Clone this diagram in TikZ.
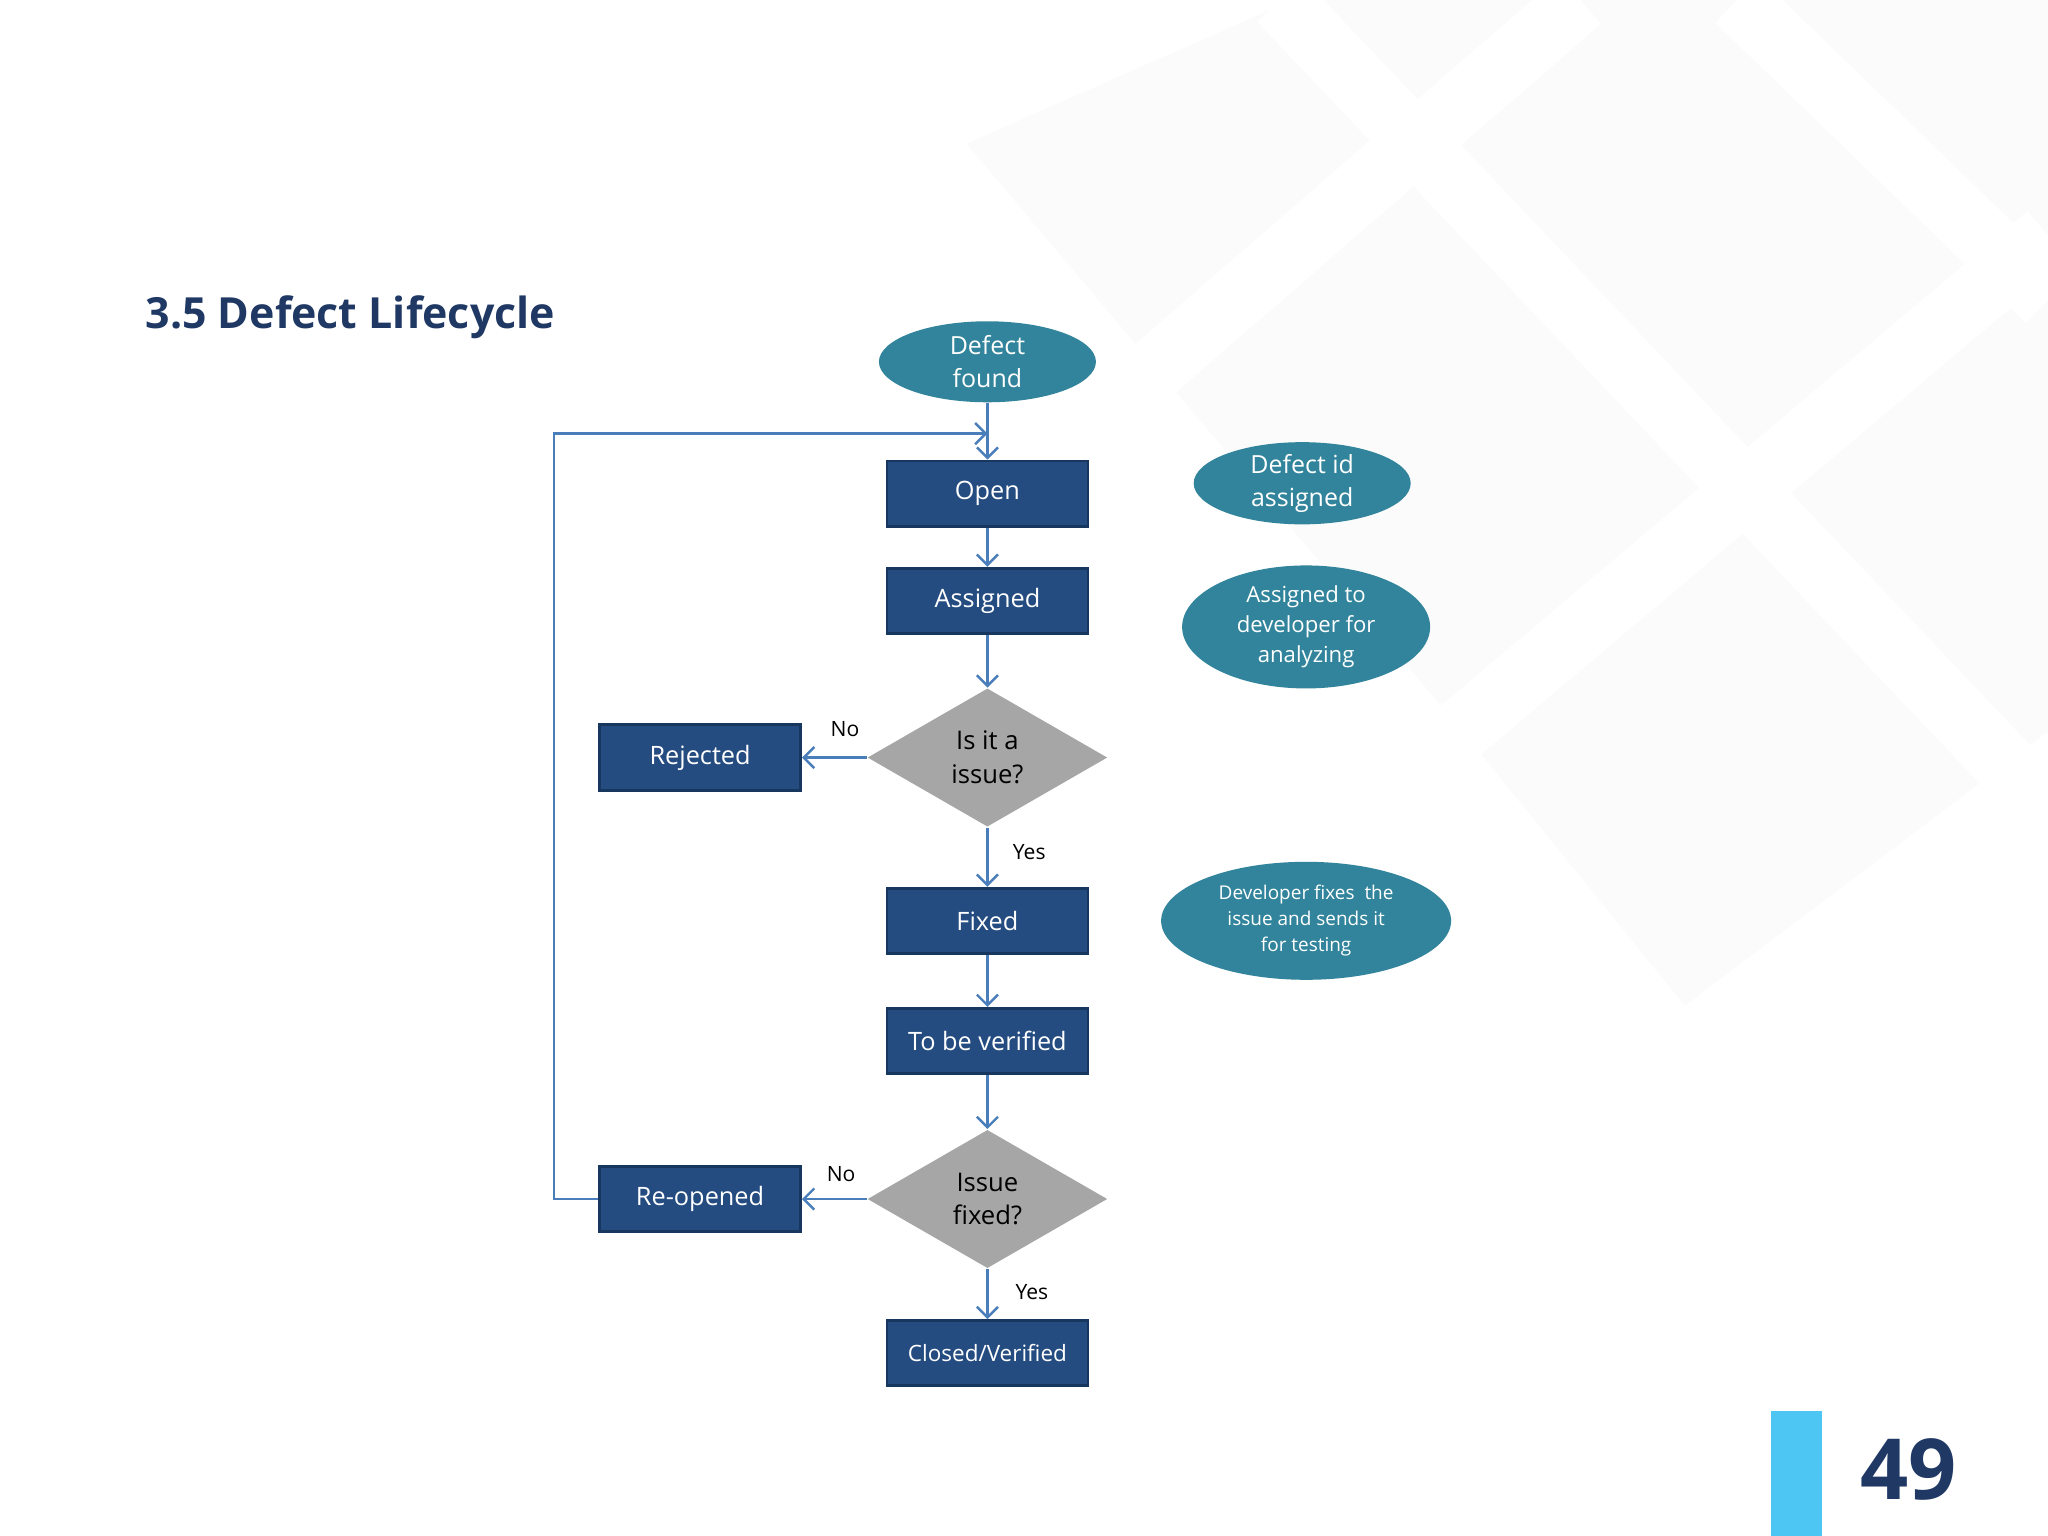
\documentclass[tikz,border=0pt]{standalone}
\usepackage{fontspec}
\setmainfont{Open Sans}
\usetikzlibrary{shapes.geometric,arrows.meta}
\definecolor{teal}{HTML}{31849B}
\definecolor{navy}{HTML}{244C80}
\definecolor{navyb}{HTML}{17375E}
\definecolor{title}{HTML}{1F3864}
\definecolor{line}{HTML}{4A7EBB}
\begin{document}
\begin{tikzpicture}[x=0.013061cm,y=-0.013061cm,
 box/.style={draw=navyb,line width=0.8pt,fill=navy,text=white,minimum width=2.01cm,minimum height=0.653cm,inner sep=0pt,font=\fontsize{7.2}{9}\selectfont},
 ell/.style={ellipse,fill=teal,text=white,inner sep=0pt,align=center,font=\fontsize{7.1}{9.4}\selectfont},
 dia/.style={diamond,fill=black!35,aspect=1.74,minimum width=2.4cm,minimum height=1.385cm,inner sep=0pt,align=center,font=\fontsize{7.3}{9.6}\selectfont},
 arr/.style={draw=line,line width=0.7pt,-{Straight Barb[length=3pt,width=6pt]}},
 lab/.style={font=\fontsize{6}{7}\selectfont}]
\useasboundingbox (0,0) rectangle (1568,1176);
\fill[white] (0,0) rectangle (1568,1176);
\begin{scope}[black!1.5]
\fill (740,110) -- (990,0) -- (1568,0) -- (1568,560) -- (1290,770) -- (1120,560) -- cycle;
\end{scope}
\begin{scope}[white,line width=18pt]
\draw (980,0) -- (1568,620);
\draw (1330,0) -- (1568,230);
\draw (1568,180) -- (880,760);
\draw (1210,0) -- (760,390);
\end{scope}
\node[anchor=west,text=title,font=\bfseries\fontsize{12.2}{15}\selectfont] (t) at (102,243) {3.5 Defect Lifecycle};
\node[ell,minimum width=2.17cm,minimum height=0.81cm] (df) at (756,277) {Defect\\found};
\node[box] (op) at (756,378) {Open};
\node[box] (as) at (756,460) {Assigned};
\node[dia] (d1) at (756,580) {Is it a\\issue?};
\node[box] (rj) at (536,580) {Rejected};
\node[box] (fx) at (756,705) {Fixed};
\node[box] (tv) at (756,797) {To be verified};
\node[dia] (d2) at (756,918) {Issue\\fixed?};
\node[box] (ro) at (536,918) {Re-opened};
\node[box,font=\fontsize{6.4}{8}\selectfont] (cv) at (756,1036) {Closed/Verified};
\node[ell,minimum width=2.17cm,minimum height=0.81cm] (e1) at (997,370) {Defect id\\assigned};
\node[ell,minimum width=2.48cm,minimum height=1.23cm,font=\fontsize{6.3}{8.5}\selectfont] (e2) at (1000,480) {Assigned to\\developer for\\analyzing};
\node[ell,minimum width=2.9cm,minimum height=1.18cm,font=\fontsize{5.4}{7.4}\selectfont] (e3) at (1000,705) {Developer fixes\ \ the\\issue and sends it\\for testing};
\draw[arr] (df) -- (op);
\draw[arr] (op) -- (as);
\draw[arr] (as) -- (d1);
\draw[arr] (d1) -- (rj);
\node[lab] (n1) at (647,558) {No};
\draw[arr] (d1) -- (fx);
\node[lab] (y1) at (788,652) {Yes};
\draw[arr] (fx) -- (tv);
\draw[arr] (tv) -- (d2);
\draw[arr] (d2) -- (ro);
\node[lab] (n2) at (644,899) {No};
\draw[arr] (d2) -- (cv);
\node[lab] (y2) at (790,989) {Yes};
\coordinate (c1) at (424,918);
\coordinate (c2) at (424,332);
\coordinate (c3) at (756,332);
\draw[arr] (ro.west) -- (c1) -- (c2) -- (c3);
\fill[cyan!70] (1356,1080) rectangle (1395,1176);
\node[text=title,font=\bfseries\fontsize{24}{30}\selectfont] (pn) at (1461,1125) {49};
\end{tikzpicture}
\end{document}
